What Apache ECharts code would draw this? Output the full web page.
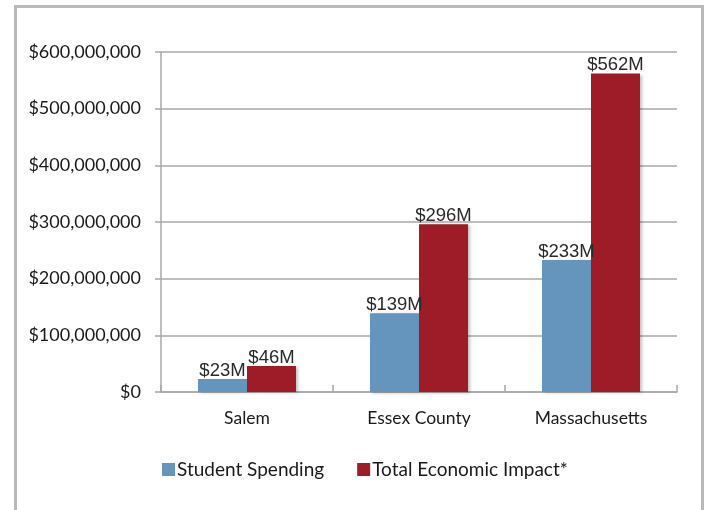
<!DOCTYPE html>
<html><head><meta charset="utf-8">
<script src="https://cdn.jsdelivr.net/npm/echarts@6/dist/echarts.min.js"></script>
<style>
html,body{margin:0;padding:0;background:#fff;}
#frame{position:absolute;left:14px;top:5px;width:684px;height:520px;border:3px solid #b9b9b9;box-sizing:content-box;}
#c{position:absolute;left:0;top:0;width:704px;height:510px;}
</style></head>
<body>
<div id="frame"></div>
<div id="c"></div>
<script>
const categories = ['Salem', 'Essex County', 'Massachusetts'];
const studentSpending = [23000000, 139000000, 233000000];
const totalImpact = [46000000, 296000000, 562000000];
const seriesNames = ['Student Spending', 'Total Economic Impact*'];

const chart = echarts.init(document.getElementById('c'), null, {renderer: 'canvas'});
function money(v){ return '$' + v.toLocaleString('en-US'); }
function label(p){ return '$' + Math.round(p.value/1e6) + 'M'; }
const labelStyle = {show:true, position:'top', formatter:label, fontFamily:'Liberation Sans, Arial, sans-serif', fontSize:18.5, color:'#2a2a2a', distance:-1};
chart.setOption({
  animation:false,
  grid:{left:161, right:27, top:52, bottom:118, containLabel:false},
  legend:{
    data:seriesNames, bottom:26, left:157, itemWidth:13, itemHeight:13, itemGap:33, icon:'rect',
    textStyle:{fontFamily:'Lato, Open Sans, sans-serif', fontSize:19, color:'#1a1a1a', padding:[0,0,0,-3]}
  },
  xAxis:{
    type:'category', data:categories,
    axisLine:{lineStyle:{color:'#a8a8a8', width:1.5}},
    axisTick:{show:true, inside:true, length:7, alignWithLabel:false, lineStyle:{color:'#a8a8a8', width:1.5}},
    axisLabel:{fontFamily:'Lato, Open Sans, sans-serif', fontSize:17.5, color:'#1a1a1a', margin:17}
  },
  yAxis:{
    type:'value', min:0, max:600000000, interval:100000000,
    axisLine:{show:true, lineStyle:{color:'#a8a8a8', width:1.5}},
    axisTick:{show:true, length:6, lineStyle:{color:'#a8a8a8', width:1.5}},
    splitLine:{lineStyle:{color:'#a8a8a8', width:1.5}},
    axisLabel:{formatter:money, fontFamily:'Lato, Open Sans, sans-serif', fontSize:18, color:'#1a1a1a', margin:20}
  },
  series:[
    {name:seriesNames[0], type:'bar', data:studentSpending, barWidth:49, barGap:'0%',
     itemStyle:{color:'#6594bc', shadowColor:'rgba(0,0,0,0.25)', shadowBlur:3, shadowOffsetX:2, shadowOffsetY:1}, label:labelStyle},
    {name:seriesNames[1], type:'bar', data:totalImpact, barWidth:49, barGap:'0%',
     itemStyle:{color:'#9e1b28', shadowColor:'rgba(0,0,0,0.25)', shadowBlur:3, shadowOffsetX:2, shadowOffsetY:1}, label:labelStyle}
  ]
});
</script>
</body></html>
